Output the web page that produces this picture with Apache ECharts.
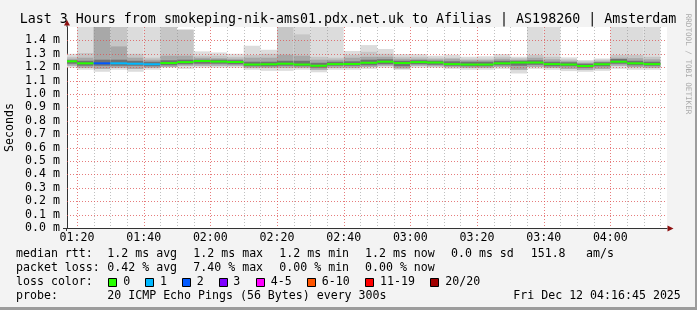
<!DOCTYPE html>
<html><head><meta charset="utf-8">
<script src="https://cdn.jsdelivr.net/npm/echarts@6/dist/echarts.min.js"></script>
<style>html,body{margin:0;padding:0;background:#f3f3f3}#c{width:697px;height:310px}</style>
</head><body><div id="c"></div>
<script>
// ---- data ----
const plotStart = '01:17';
const plotEnd = '04:17';
const stepEnds = ['01:20','01:25','01:30','01:35','01:40','01:45','01:50','01:55','02:00','02:05','02:10','02:15',
  '02:20','02:25','02:30','02:35','02:40','02:45','02:50','02:55','03:00','03:05','03:10','03:15',
  '03:20','03:25','03:30','03:35','03:40','03:45','03:50','03:55','04:00','04:05','04:10','04:15'];
const medianMs = [1.244,1.229,1.229,1.229,1.226,1.222,1.231,1.238,1.246,1.242,1.239,1.220,
  1.222,1.226,1.220,1.211,1.223,1.224,1.233,1.241,1.231,1.238,1.235,1.223,
  1.220,1.220,1.229,1.235,1.235,1.223,1.220,1.209,1.222,1.241,1.229,1.223];
const lossCount = [0,0,2,1,1,1,0,0,0,0,0,0, 0,0,0,0,0,0,0,0,0,0,0,0, 0,0,0,0,0,0,0,0,0,0,0,0];
// smoke envelope (ms): outer max, 2nd, 3rd, core top, core bottom, lower 2nd, min
const smokeMax = [1.300,1.6,1.6,1.6,1.6,1.6,1.6,1.48,1.318,1.310,1.300,1.360,
  1.330,1.6,1.6,1.6,1.6,1.321,1.365,1.336,1.298,1.298,1.286,1.293,
  1.278,1.281,1.298,1.278,1.6,1.6,1.273,1.253,1.265,1.6,1.6,1.6];
const smokeHi2 = [1.278,1.306,1.6,1.6,1.300,1.271,1.6,1.48,1.286,1.286,1.278,1.291,
  1.300,1.6,1.445,1.278,1.271,1.293,1.315,1.300,1.278,1.278,1.271,1.271,
  1.263,1.263,1.278,1.267,1.291,1.278,1.259,1.244,1.256,1.291,1.291,1.278];
const smokeHi3 = [1.263,1.271,1.6,1.355,1.271,1.256,1.286,1.286,1.271,1.267,1.263,1.271,
  1.271,1.293,1.286,1.256,1.256,1.271,1.278,1.278,1.263,1.263,1.259,1.263,
  1.252,1.252,1.263,1.256,1.271,1.259,1.248,1.233,1.244,1.271,1.267,1.259];
const smokeHi4 = [1.252,1.248,1.256,1.256,1.248,1.241,1.252,1.256,1.256,1.256,1.252,1.241,
  1.241,1.248,1.248,1.233,1.241,1.244,1.256,1.259,1.248,1.252,1.248,1.244,
  1.241,1.241,1.248,1.248,1.252,1.241,1.237,1.226,1.237,1.261,1.248,1.241];
const smokeLo4 = [1.226,1.211,1.211,1.211,1.211,1.207,1.214,1.222,1.226,1.226,1.222,1.207,
  1.207,1.211,1.207,1.196,1.211,1.211,1.214,1.222,1.207,1.222,1.218,1.211,
  1.207,1.207,1.214,1.211,1.218,1.207,1.207,1.196,1.207,1.226,1.214,1.211];
const smokeLo2 = [1.211,1.196,1.188,1.196,1.188,1.196,1.203,1.211,1.211,1.211,1.211,1.196,
  1.196,1.196,1.196,1.181,1.196,1.196,1.203,1.211,1.191,1.211,1.207,1.200,
  1.196,1.196,1.203,1.181,1.203,1.196,1.188,1.181,1.188,1.211,1.200,1.196];
const smokeMin = [1.196,1.181,1.166,1.181,1.166,1.181,1.196,1.188,1.196,1.196,1.196,1.181,
  1.173,1.173,1.181,1.162,1.181,1.181,1.188,1.196,1.181,1.196,1.196,1.188,
  1.181,1.181,1.188,1.153,1.188,1.181,1.171,1.166,1.173,1.188,1.181,1.181];
const xMajorTicks = ['01:20','01:40','02:00','02:20','02:40','03:00','03:20','03:40','04:00'];
const yTicks = [0.1,0.2,0.3,0.4,0.5,0.6,0.7,0.8,0.9,1.0,1.1,1.2,1.3,1.4];
const lossLegendLabels = ['0','1','2','3','4-5','6-10','11-19','20/20'];
const lossLegendColors = ['#26ff00','#00b8ff','#0059ff','#7e00ff','#ff00ff','#ff5500','#ff0000','#a10000'];
const lossColorFor = n => n===0?lossLegendColors[0]:n===1?lossLegendColors[1]:n===2?lossLegendColors[2]:n===3?lossLegendColors[3]:
  n<=5?lossLegendColors[4]:n<=10?lossLegendColors[5]:n<=19?lossLegendColors[6]:lossLegendColors[7];

// ---- helpers ----
const toMin = s => { const p = s.split(':').map(Number); return p[0]*60+p[1]; };
const fmtMin = v => { const h=Math.floor(v/60), m=Math.round(v%60); return String(h).padStart(2,'0')+':'+String(m).padStart(2,'0'); };
const X_MIN = toMin(plotStart), X_MAX = toMin(plotEnd);
const MONO = '"DejaVu Sans Mono", monospace';
const minorX = [];
for (let m = toMin(xMajorTicks[0]); m <= toMin(stepEnds[stepEnds.length-1]); m += 5) minorX.push(m);
const majorX = xMajorTicks.map(toMin);

const chart = echarts.init(document.getElementById('c'), null, {renderer:'canvas'});

function clipR(p0, p1, cs) {
  return echarts.graphic.clipRectByRect(
    {x:p0[0], y:p0[1], width:p1[0]-p0[0], height:p1[1]-p0[1]},
    {x:cs.x, y:cs.y, width:cs.width, height:cs.height});
}

const smokeSeries = {
  type:'custom', z:2, silent:true, animation:false,
  data: stepEnds.map((t,i)=>[i]),
  renderItem(params, api) {
    const i = api.value(0);
    const x0 = i===0 ? X_MIN : toMin(stepEnds[i-1]);
    const x1 = toMin(stepEnds[i]);
    const cs = params.coordSys;
    const band = (lo, hi, color) => {
      const r = clipR(api.coord([x0, hi]), api.coord([x1, lo]), cs);
      return r ? {type:'rect', shape:r, style:{fill:color}} : null;
    };
    return {type:'group', children:[
      band(smokeMin[i], smokeMax[i], '#dcdcdc'),
      band(smokeLo2[i], smokeHi2[i], '#c6c6c6'),
      band(smokeLo2[i], smokeHi3[i], '#a8a8a8'),
      band(smokeLo4[i], smokeHi4[i], '#727272')
    ].filter(Boolean)};
  }
};

const gridItems = [];
minorX.forEach(m => { if (majorX.indexOf(m) < 0) gridItems.push([0, m]); });
majorX.forEach(m => gridItems.push([1, m]));
yTicks.forEach(v => gridItems.push([2, v]));
const gridSeries = {
  type:'custom', z:3, silent:true, animation:false,
  data: gridItems,
  renderItem(params, api) {
    const kind = api.value(0), v = api.value(1);
    const cs = params.coordSys;
    if (kind === 2) {
      const y = Math.round(api.coord([X_MIN, v])[1]) + 0.5;
      return {type:'line', shape:{x1:cs.x, y1:y, x2:cs.x+cs.width, y2:y},
        style:{stroke:'rgba(222,80,80,0.75)', lineWidth:1, lineDash:[1,2]}};
    }
    const x = Math.round(api.coord([v, 0])[0]) + 0.5;
    return {type:'line', shape:{x1:x, y1:cs.y, x2:x, y2:cs.y+cs.height},
      style:{stroke: kind===1 ? 'rgba(222,80,80,0.75)' : 'rgba(140,140,140,0.55)', lineWidth:1, lineDash:[1,2]}};
  }
};

const medianSeries = {
  type:'custom', z:4, silent:true, animation:false,
  data: stepEnds.map((t,i)=>[i]),
  renderItem(params, api) {
    const i = api.value(0);
    const x0 = i===0 ? X_MIN : toMin(stepEnds[i-1]);
    const x1 = toMin(stepEnds[i]);
    const p0 = api.coord([x0, medianMs[i]]), p1 = api.coord([x1, medianMs[i]]);
    return {type:'rect', shape:{x:p0[0], y:p0[1]-1, width:p1[0]-p0[0], height:2},
      style:{fill: lossColorFor(lossCount[i])}};
  }
};

// ---- legend / decoration ----
const txt = (text, x, y, opts) => Object.assign({type:'text', silent:true, style:Object.assign({
  text, x, y, fill:'#000', font:'11.6px '+MONO, align:'left', verticalAlign:'middle'}, opts||{})});
const graphics = [
  {type:'rect', shape:{x:695, y:0, width:2, height:310}, style:{fill:'#9c9c9c'}, silent:true},
  {type:'rect', shape:{x:0, y:307, width:697, height:3}, style:{fill:'#9c9c9c'}, silent:true},
  txt('Last 3 Hours from smokeping-nik-ams01.pdx.net.uk to Afilias | AS198260 | Amsterdam', 348, 19.5,
    {font:'13.3px '+MONO, align:'center'}),
  txt('RRDTOOL / TOBI OETIKER', 0, 0, {font:'7.6px '+MONO, fill:'#aaaaaa', align:'center'}),
  txt('Seconds', 0, 0, {align:'center'}),
  // axis arrows
  {type:'line', shape:{x1:67, y1:25, x2:67, y2:27}, style:{stroke:'#333', lineWidth:1}, silent:true},
  {type:'polygon', shape:{points:[[64,25.5],[70,25.5],[67,20]]}, style:{fill:'#8e1010'}, silent:true},
  {type:'polygon', shape:{points:[[667.5,225.5],[667.5,231.5],[673.5,228.5]]}, style:{fill:'#8e1010'}, silent:true},
  {type:'line', shape:{x1:63, y1:228.5, x2:67, y2:228.5}, style:{stroke:'#333', lineWidth:1}, silent:true},
  {type:'line', shape:{x1:66.5, y1:228, x2:66.5, y2:231}, style:{stroke:'#333', lineWidth:1}, silent:true},
  // rows
  txt('median rtt:', 16, 254), txt('1.2 ms avg', 107.3, 254), txt('1.2 ms max', 193.3, 254),
  txt('1.2 ms min', 279.3, 254), txt('1.2 ms now', 365, 254), txt('0.0 ms sd', 451, 254),
  txt('151.8', 530.7, 254), txt('am/s', 586, 254),
  txt('packet loss:', 16, 268), txt('0.42 % avg', 107.3, 268), txt('7.40 % max', 193.3, 268),
  txt('0.00 % min', 279.3, 268), txt('0.00 % now', 365, 268),
  txt('loss color:', 16, 282),
  txt('probe:', 16, 296), txt('20 ICMP Echo Pings (56 Bytes) every 300s', 107.3, 296),
  txt('Fri Dec 12 04:16:45 2025', 513.3, 296)
];
// rotated texts
graphics[3].x = 688; graphics[3].y = 64; graphics[3].rotation = -Math.PI/2;
graphics[4].x = 10; graphics[4].y = 127.5; graphics[4].rotation = Math.PI/2;
const boxX = [108.5,145.5,182.5,219.5,256.5,307.5,365.5,430.5];
const labX = [123.3,160,196.7,233.3,270.7,321.7,380,445.3];
lossLegendLabels.forEach((l, k) => {
  graphics.push({type:'rect', silent:true, shape:{x:boxX[k], y:278.5, width:8, height:8},
    style:{fill:lossLegendColors[k], stroke:'#000', lineWidth:1}});
  graphics.push(txt(l, labX[k], 282));
});

chart.setOption({
  animation:false,
  backgroundColor:'#f3f3f3',
  grid:{left:67, right:30, top:27, bottom:82, show:true, backgroundColor:'#ffffff', borderWidth:0},
  xAxis:{type:'value', min:X_MIN, max:X_MAX,
    axisLine:{show:true, onZero:false, lineStyle:{color:'#333', width:1}},
    axisTick:{show:false}, splitLine:{show:false},
    axisLabel:{customValues:majorX, formatter:v=>fmtMin(v), fontFamily:'DejaVu Sans Mono', fontSize:11.6, color:'#000', margin:4}},
  yAxis:{type:'value', min:0, max:1.5, interval:0.1,
    axisLine:{show:true, onZero:false, lineStyle:{color:'#333', width:1}},
    axisTick:{show:false}, splitLine:{show:false},
    axisLabel:{formatter:v=>v.toFixed(1)+' m', showMaxLabel:false, fontFamily:'DejaVu Sans Mono', fontSize:11.6, color:'#000', margin:7}},
  graphic:graphics,
  series:[smokeSeries, gridSeries, medianSeries]
});
</script></body></html>
